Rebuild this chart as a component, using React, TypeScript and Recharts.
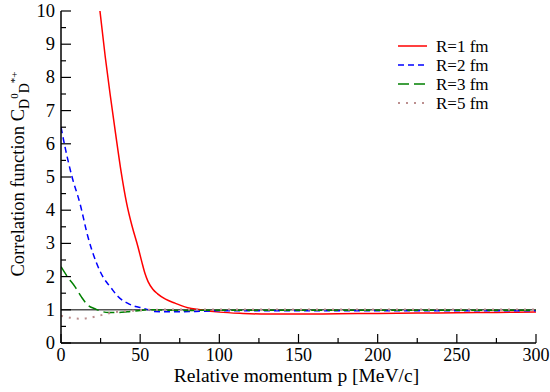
import { LineChart, Line, XAxis, YAxis, ReferenceLine } from "recharts";

// p in MeV/c, C(p)
const pR1 = [20, 24.6, 28, 31, 34.5, 38, 41.5, 45, 48.6, 51, 53, 55, 58, 61, 66, 72, 80, 88, 100, 115, 130, 150, 175, 200, 225, 250, 275, 300];
const cR1 = [12.2, 10, 8.6, 7.5, 6.3, 5.15, 4.2, 3.5, 2.9, 2.45, 2.1, 1.85, 1.62, 1.48, 1.32, 1.2, 1.06, 1.0, 0.93, 0.89, 0.87, 0.87, 0.88, 0.89, 0.9, 0.91, 0.92, 0.93];

const pR2 = [0, 3, 6.7, 12, 17, 22.5, 27, 31, 36, 42, 47, 51, 55, 59, 70, 85, 100, 150, 200, 300];
const cR2 = [6.5, 5.8, 5.05, 4.2, 3.2, 2.4, 1.95, 1.7, 1.4, 1.2, 1.1, 1.06, 1.0, 0.95, 0.94, 0.95, 0.97, 0.97, 0.97, 0.97];

const pR3 = [0, 4, 8.8, 13, 17, 21.5, 25, 30, 36, 42, 50, 55, 65, 80, 100, 300];
const cR3 = [2.3, 2.0, 1.7, 1.38, 1.14, 1.03, 0.96, 0.92, 0.92, 0.94, 0.98, 1.0, 0.99, 0.98, 0.99, 0.99];

const pR5 = [0, 6, 12, 17, 23, 28, 33, 39, 45, 55, 80, 300];
const cR5 = [0.82, 0.76, 0.73, 0.75, 0.81, 0.87, 0.92, 0.95, 0.97, 1.0, 1.01, 1.01];

const xTicks = [0, 25, 50, 75, 100, 125, 150, 175, 200, 225, 250, 275, 300];
const yTicks = [0, 0.5, 1, 1.5, 2, 2.5, 3, 3.5, 4, 4.5, 5, 5.5, 6, 6.5, 7, 7.5, 8, 8.5, 9, 9.5, 10];

const toData = (ps: number[], cs: number[]) => ps.map((p, i) => ({ p, c: cs[i] }));

const series = [
  { name: "R=1 fm", data: toData(pR1, cR1), color: "#ff0000", dash: undefined, width: 1.5 },
  { name: "R=2 fm", data: toData(pR2, cR2), color: "#0000ff", dash: "6 4", width: 1.5 },
  { name: "R=3 fm", data: toData(pR3, cR3), color: "#008000", dash: "11 5", width: 1.5 },
  { name: "R=5 fm", data: toData(pR5, cR5), color: "#bc8f8f", dash: "2 6", width: 2 },
];

const FONT = "Liberation Serif";

const BottomTick = ({ x, y, payload }: any) => {
  const major = payload.value % 50 === 0;
  return (
    <g>
      <line x1={x} y1={y} x2={x} y2={y - (major ? 9 : 5)} stroke="#000" strokeWidth={1.2} />
      {major ? (
        <text x={x} y={y + 18} textAnchor="middle" fontSize={18} style={{ fontFamily: FONT }} fill="#000">
          {payload.value}
        </text>
      ) : null}
    </g>
  );
};

const TopTick = ({ x, y, payload }: any) => {
  const major = payload.value % 50 === 0;
  return <line x1={x} y1={y} x2={x} y2={y + (major ? 9 : 5)} stroke="#000" strokeWidth={1.2} />;
};

const LeftTick = ({ x, y, payload }: any) => {
  const major = Number.isInteger(payload.value);
  return (
    <g>
      <line x1={x} y1={y} x2={x + (major ? 10 : 5)} y2={y} stroke="#000" strokeWidth={1.2} />
      {major ? (
        <text x={x - 6} y={y + 6} textAnchor="end" fontSize={18.5} style={{ fontFamily: FONT }} fill="#000">
          {payload.value}
        </text>
      ) : null}
    </g>
  );
};

const RightTick = ({ x, y, payload }: any) => {
  const major = Number.isInteger(payload.value);
  return <line x1={x} y1={y} x2={x - (major ? 10 : 5)} y2={y} stroke="#000" strokeWidth={1.2} />;
};

const YLabel = ({ viewBox }: any) => {
  const cx = 24;
  const cy = viewBox.y + viewBox.height / 2 - 3;
  return (
    <text
      x={cx}
      y={cy}
      textAnchor="middle"
      fontSize={18.5}
      style={{ fontFamily: FONT }}
      fill="#000"
      transform={`rotate(-90, ${cx}, ${cy})`}
    >
      Correlation function C
      <tspan fontSize={14} dy={5}>D</tspan>
      <tspan fontSize={11} dy={-11}>0</tspan>
      <tspan fontSize={14} dy={11}>D</tspan>
      <tspan fontSize={11} dy={-11}>*+</tspan>
    </text>
  );
};

const XLabel = ({ viewBox }: any) => (
  <text
    x={viewBox.x + viewBox.width / 2 - 2}
    y={382}
    textAnchor="middle"
    fontSize={19.5}
    style={{ fontFamily: FONT }}
    fill="#000"
  >
    Relative momentum p [MeV/c]
  </text>
);

const LegendBox = () => (
  <svg width={150} height={84} style={{ position: "absolute", left: 398, top: 36 }}>
    {series.map((s, i) => {
      const y = 10 + i * 19;
      return (
        <g key={s.name}>
          <line x1={0} y1={y} x2={29} y2={y} stroke={s.color} strokeWidth={s.width} strokeDasharray={s.dash} />
          <text x={38} y={y + 6} fontSize={17} style={{ fontFamily: FONT }} fill="#000">
            {s.name}
          </text>
        </g>
      );
    })}
  </svg>
);

export default function App() {
  return (
    <div
      style={{
        position: "absolute",
        left: 0,
        top: 0,
        width: 550,
        height: 392,
        background: "#fff",
        fontFamily: FONT,
      }}
    >
      <LineChart width={550} height={392} margin={{ top: 11, right: 14, bottom: 19, left: 16 }}>
        <XAxis
          xAxisId="bottom"
          dataKey="p"
          type="number"
          domain={[0, 300]}
          ticks={xTicks}
          interval={0}
          allowDataOverflow
          height={30}
          tickSize={0}
          tickMargin={0}
          tickLine={false}
          tick={<BottomTick />}
          axisLine={{ stroke: "#000", strokeWidth: 1.5 }}
          label={<XLabel />}
        />
        <XAxis
          xAxisId="top"
          orientation="top"
          dataKey="p"
          type="number"
          domain={[0, 300]}
          ticks={xTicks}
          interval={0}
          height={0}
          tickSize={0}
          tickMargin={0}
          tickLine={false}
          tick={<TopTick />}
          axisLine={{ stroke: "#000", strokeWidth: 1.5 }}
        />
        <YAxis
          yAxisId="left"
          type="number"
          domain={[0, 10]}
          ticks={yTicks}
          interval={0}
          allowDataOverflow
          width={45}
          tickSize={0}
          tickMargin={0}
          tickLine={false}
          tick={<LeftTick />}
          axisLine={{ stroke: "#000", strokeWidth: 1.5 }}
          label={<YLabel />}
        />
        <YAxis
          yAxisId="right"
          orientation="right"
          type="number"
          domain={[0, 10]}
          ticks={yTicks}
          interval={0}
          width={0}
          tickSize={0}
          tickMargin={0}
          tickLine={false}
          tick={<RightTick />}
          axisLine={{ stroke: "#000", strokeWidth: 1.5 }}
        />
        <ReferenceLine xAxisId="bottom" yAxisId="left" y={1} stroke="#555" strokeWidth={1.6} />
        {series.map((s) => (
          <Line
            key={s.name}
            xAxisId="bottom"
            yAxisId="left"
            data={s.data}
            dataKey="c"
            name={s.name}
            type="monotone"
            stroke={s.color}
            strokeWidth={s.width}
            strokeDasharray={s.dash}
            dot={false}
            isAnimationActive={false}
          />
        ))}
      </LineChart>
      <LegendBox />
    </div>
  );
}
